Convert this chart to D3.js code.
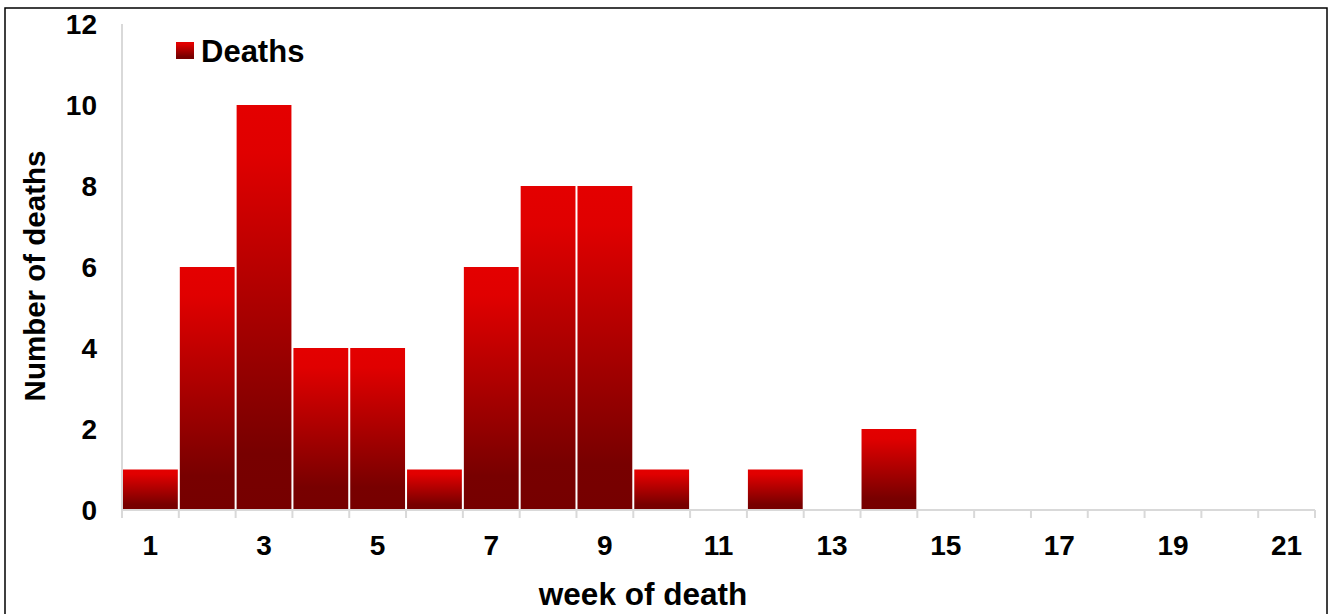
<!DOCTYPE html>
<html>
<head>
<meta charset="utf-8">
<script src="https://cdn.jsdelivr.net/npm/d3@7"></script>
<style>
  body { margin: 0; background: #fff; }
  svg text { font-family: "Liberation Sans", Arial, sans-serif; font-weight: bold; fill: #000; }
</style>
</head>
<body>
<div id="chart"></div>
<script>
const width = 1338, height = 614;

const weeks = d3.range(1, 22);
const deaths = [1, 6, 10, 4, 4, 1, 6, 8, 8, 1, 0, 1, 0, 2, 0, 0, 0, 0, 0, 0, 0];
const yTicks = [0, 2, 4, 6, 8, 10, 12];
const xLabels = [1, 3, 5, 7, 9, 11, 13, 15, 17, 19, 21];

const plot = { left: 122, right: 1315, top: 24, bottom: 510 };

const svg = d3.select("#chart").append("svg")
  .attr("width", width)
  .attr("height", height);

const defs = svg.append("defs");
const grad = defs.append("linearGradient")
  .attr("id", "barGrad")
  .attr("x1", 0).attr("y1", 0).attr("x2", 0).attr("y2", 1);
grad.append("stop").attr("offset", "0%").attr("stop-color", "#e40000");
grad.append("stop").attr("offset", "12%").attr("stop-color", "#e00000");
grad.append("stop").attr("offset", "86%").attr("stop-color", "#780000");
grad.append("stop").attr("offset", "100%").attr("stop-color", "#760000");

// outer frame
svg.append("rect")
  .attr("x", 5).attr("y", 8)
  .attr("width", 1322).attr("height", 640)
  .attr("fill", "none")
  .attr("stroke", "#000")
  .attr("stroke-width", 1.5);

const x = d3.scaleBand()
  .domain(weeks)
  .range([plot.left, plot.right])
  .padding(0);

const y = d3.scaleLinear()
  .domain([0, 12])
  .range([plot.bottom, plot.top]);

// y axis line
svg.append("line")
  .attr("x1", plot.left).attr("x2", plot.left)
  .attr("y1", plot.top).attr("y2", plot.bottom)
  .attr("stroke", "#d9d9d9")
  .attr("stroke-width", 2);

// y tick labels
svg.selectAll(".ytick")
  .data(yTicks)
  .enter().append("text")
  .attr("class", "ytick")
  .attr("x", 97)
  .attr("y", d => y(d))
  .attr("dy", "0.36em")
  .attr("text-anchor", "end")
  .attr("font-size", "28px")
  .text(d => d);

// bars
svg.selectAll(".bar")
  .data(weeks.map((w, i) => ({ week: w, value: deaths[i] })).filter(d => d.value > 0))
  .enter().append("rect")
  .attr("class", "bar")
  .attr("x", d => x(d.week) + 1)
  .attr("y", d => y(d.value))
  .attr("width", x.bandwidth() - 2)
  .attr("height", d => y(0) - y(d.value))
  .attr("fill", "url(#barGrad)");

// x axis line and ticks at category boundaries
svg.append("line")
  .attr("x1", plot.left).attr("x2", plot.right)
  .attr("y1", plot.bottom).attr("y2", plot.bottom)
  .attr("stroke", "#d9d9d9")
  .attr("stroke-width", 2);

const bounds = weeks.map(w => x(w)).concat([x(weeks[weeks.length - 1]) + x.bandwidth()]);
svg.selectAll(".xtick")
  .data(bounds)
  .enter().append("line")
  .attr("class", "xtick")
  .attr("x1", d => d).attr("x2", d => d)
  .attr("y1", plot.bottom).attr("y2", plot.bottom + 8)
  .attr("stroke", "#d9d9d9")
  .attr("stroke-width", 2);

svg.selectAll(".xlabel")
  .data(xLabels)
  .enter().append("text")
  .attr("class", "xlabel")
  .attr("x", d => x(d) + x.bandwidth() / 2)
  .attr("y", 555)
  .attr("text-anchor", "middle")
  .attr("font-size", "28px")
  .text(d => d);

// axis titles
svg.append("text")
  .attr("x", 643)
  .attr("y", 605)
  .attr("text-anchor", "middle")
  .attr("font-size", "31.5px")
  .text("week of death");

svg.append("text")
  .attr("transform", "translate(45, 276) rotate(-90)")
  .attr("text-anchor", "middle")
  .attr("font-size", "29.5px")
  .text("Number of deaths");

// legend
svg.append("rect")
  .attr("x", 176).attr("y", 42)
  .attr("width", 18).attr("height", 17)
  .attr("fill", "url(#barGrad)");

svg.append("text")
  .attr("x", 201)
  .attr("y", 62)
  .attr("font-size", "31px")
  .text("Deaths");
</script>
</body>
</html>
